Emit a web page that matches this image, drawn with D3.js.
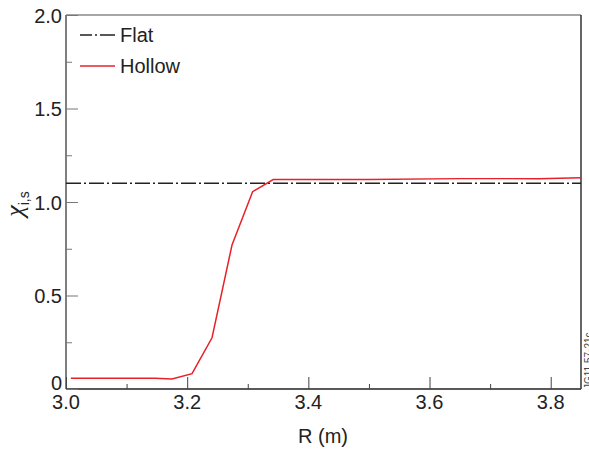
<!DOCTYPE html>
<html>
<head>
<meta charset="utf-8">
<script src="https://cdn.jsdelivr.net/npm/d3@7"></script>
<style>
  body { margin: 0; background: #fff; }
  svg text { font-family: "Liberation Sans", Arial, sans-serif; fill: #222; }
</style>
</head>
<body>
<div id="chart"></div>
<script>
// data
const hollowR = [3.008, 3.147, 3.175, 3.208, 3.241, 3.274, 3.308, 3.342, 3.5, 3.65, 3.78, 3.85];
const hollowChi = [0.058, 0.058, 0.053, 0.082, 0.274, 0.77, 1.055, 1.12, 1.12, 1.125, 1.125, 1.13];
const flatChi = 1.10;
const xTicks = [3.0, 3.2, 3.4, 3.6, 3.8];
const xMinor = [3.1, 3.3, 3.5, 3.7];
const yTicks = [0, 0.5, 1.0, 1.5, 2.0];
const yMinor = [0.25, 0.75, 1.25, 1.75];
const seriesNames = ["Flat", "Hollow"];

const margin = { top: 15, right: 8, bottom: 64, left: 66 };
const width = 589 - margin.left - margin.right;
const height = 453 - margin.top - margin.bottom;

const svg = d3.select("#chart")
    .append("svg")
    .attr("width", 589)
    .attr("height", 453);

const g = svg.append("g")
    .attr("transform", `translate(${margin.left}, ${margin.top})`);

const x = d3.scaleLinear().domain([3.0, 3.85]).range([0, width]);
const y = d3.scaleLinear().domain([0, 2.0]).range([height, 0]);

// frame: top and left grey, bottom and right dark
g.append("line").attr("x1", 0).attr("x2", width).attr("y1", 0).attr("y2", 0)
    .attr("stroke", "#888").attr("stroke-width", 1.5);
g.append("line").attr("x1", 0).attr("x2", 0).attr("y1", 0).attr("y2", height)
    .attr("stroke", "#555").attr("stroke-width", 1.5);
g.append("line").attr("x1", 0).attr("x2", width).attr("y1", height).attr("y2", height)
    .attr("stroke", "#222").attr("stroke-width", 1.5);
g.append("line").attr("x1", width).attr("x2", width).attr("y1", 0).attr("y2", height)
    .attr("stroke", "#333").attr("stroke-width", 1.5);

// x axis (ticks inward)
const xAxis = g.append("g")
    .attr("transform", `translate(0, ${height})`)
    .call(d3.axisTop(x).tickValues(xTicks).tickSize(12).tickFormat(""));
xAxis.select(".domain").remove();
xAxis.selectAll("line").attr("stroke", "#444");
g.append("g")
    .attr("transform", `translate(0, ${height})`)
    .call(d3.axisTop(x).tickValues(xMinor).tickSize(5).tickFormat(""))
    .call(s => s.select(".domain").remove())
    .selectAll("line").attr("stroke", "#444");

g.selectAll(".xlab")
    .data(xTicks)
    .enter()
    .append("text")
    .attr("class", "xlab")
    .attr("x", d => x(d))
    .attr("y", height + 20)
    .attr("text-anchor", "middle")
    .style("font-size", "20px")
    .text(d => d.toFixed(1));

// y axis (ticks inward)
const yAxis = g.append("g")
    .call(d3.axisRight(y).tickValues(yTicks).tickSize(12).tickFormat(""));
yAxis.select(".domain").remove();
yAxis.selectAll("line").attr("stroke", "#777");
g.append("g")
    .call(d3.axisRight(y).tickValues(yMinor).tickSize(6).tickFormat(""))
    .call(s => s.select(".domain").remove())
    .selectAll("line").attr("stroke", "#777");

g.selectAll(".ylab")
    .data(yTicks)
    .enter()
    .append("text")
    .attr("class", "ylab")
    .attr("x", -4)
    .attr("y", d => y(d) + (d === 0 ? 1 : 7.5))
    .attr("text-anchor", "end")
    .style("font-size", "20px")
    .text(d => d === 0 ? "0" : d.toFixed(1));

// flat line
g.append("line")
    .attr("x1", x(3.0))
    .attr("x2", x(3.85))
    .attr("y1", y(flatChi))
    .attr("y2", y(flatChi))
    .attr("stroke", "#222")
    .attr("stroke-width", 1.5)
    .attr("stroke-dasharray", "15,3,2,3");

// hollow line
const line = d3.line()
    .x(d => x(d[0]))
    .y(d => y(d[1]));

g.append("path")
    .datum(hollowR.map((r, i) => [r, hollowChi[i]]))
    .attr("d", line)
    .attr("fill", "none")
    .attr("stroke", "#e8202a")
    .attr("stroke-width", 1.5);

// legend
const legend = g.append("g").attr("transform", "translate(14, 20)");
const legendStyles = [
    { stroke: "#222", dash: "12,3,2,3,17,3" },
    { stroke: "#e8202a", dash: null }
];
seriesNames.forEach((name, i) => {
    const row = legend.append("g").attr("transform", `translate(0, ${i * 31})`);
    row.append("line")
        .attr("x1", 0).attr("x2", 35).attr("y1", 0).attr("y2", 0)
        .attr("stroke", legendStyles[i].stroke)
        .attr("stroke-width", 1.5)
        .attr("stroke-dasharray", legendStyles[i].dash);
    row.append("text")
        .attr("x", 40)
        .attr("y", 7)
        .style("font-size", "20px")
        .text(name);
});

// axis titles
svg.append("text")
    .attr("x", 323)
    .attr("y", 443)
    .attr("text-anchor", "middle")
    .style("font-size", "20px")
    .text("R (m)");

const yTitle = svg.append("text")
    .attr("transform", "translate(23, 204) rotate(-90)")
    .attr("text-anchor", "middle");
yTitle.append("tspan")
    .style("font-family", "'Liberation Serif', 'DejaVu Serif', serif")
    .style("font-style", "italic")
    .style("font-size", "26px")
    .text("χ");
yTitle.append("tspan").attr("dy", 6).style("font-size", "14px").text("i,s");

// figure id along right edge
svg.append("text")
    .attr("transform", "translate(592, 389) rotate(-90)")
    .style("font-size", "10px")
    .style("fill", "#444")
    .text("JG11.57-21c");
</script>
</body>
</html>
